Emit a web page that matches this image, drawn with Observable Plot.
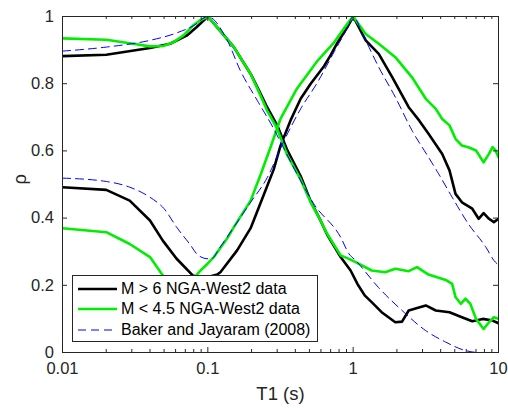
<!DOCTYPE html>
<html><head><meta charset="utf-8">
<script src="https://cdn.jsdelivr.net/npm/d3@7"></script>
<script src="https://cdn.jsdelivr.net/npm/@observablehq/plot@0.6"></script>
<style>
body{margin:0;background:#fff;}
#wrap{position:relative;width:508px;height:409px;font-family:"Liberation Sans",Arial,sans-serif;}
#legend{position:absolute;left:72px;top:275px;width:246px;height:67px;background:#fff;border:1px solid #262626;box-sizing:border-box;}
.row{position:absolute;left:5px;height:20px;display:flex;align-items:center;font-size:16px;color:#000;white-space:nowrap;}
.row svg{margin-right:4px;}
</style>
</head><body>
<div id="wrap"></div>
<script>
// ---- data ----
const seriesNames = ["M > 6 NGA-West2 data", "M < 4.5 NGA-West2 data", "Baker and Jayaram (2008)"];
const xTicks = [0.01, 0.1, 1, 10];
const yTicks = [0, 0.2, 0.4, 0.6, 0.8, 1];
const xMinor = [0.02,0.03,0.04,0.05,0.06,0.07,0.08,0.09,0.2,0.3,0.4,0.5,0.6,0.7,0.8,0.9,2,3,4,5,6,7,8,9];

// Black: M > 6, conditioned on T2 = 0.1 s
const blackA_T   = [0.01,0.02,0.04,0.055,0.0715,0.0835,0.1,0.12,0.151,0.197,0.219,0.256,0.30,0.35,0.435,0.51,0.596,0.66,0.82,0.96,1.07,1.2,1.34,1.57,1.95,2.17,2.41,3.16,3.7,4.6,5.6,6.6,7.8,9.1,10];
const blackA_rho = [0.882,0.886,0.906,0.919,0.943,0.968,1.0,0.96,0.909,0.829,0.790,0.73,0.676,0.605,0.525,0.45,0.393,0.352,0.284,0.244,0.204,0.17,0.15,0.12,0.09,0.092,0.125,0.14,0.125,0.12,0.105,0.093,0.10,0.095,0.087];
// Black: M > 6, conditioned on T2 = 1 s
const blackB_T   = [0.01,0.02,0.029,0.04,0.049,0.061,0.079,0.09,0.1,0.116,0.122,0.159,0.197,0.243,0.284,0.316,0.37,0.435,0.51,0.63,0.70,0.78,0.91,1,1.22,1.5,1.86,2.41,2.85,3.3,4.1,4.6,5.06,5.6,6.6,7.3,7.9,8.6,9.3,10];
const blackB_rho = [0.492,0.484,0.452,0.393,0.333,0.279,0.229,0.222,0.225,0.232,0.239,0.304,0.37,0.47,0.545,0.615,0.69,0.755,0.80,0.852,0.885,0.922,0.968,1.0,0.929,0.889,0.819,0.73,0.69,0.651,0.591,0.542,0.472,0.447,0.428,0.398,0.415,0.398,0.388,0.398];
// Green: M < 4.5, conditioned on T2 = 0.1 s
const greenA_T   = [0.01,0.02,0.0306,0.04,0.0494,0.0577,0.0677,0.079,0.088,0.1,0.12,0.151,0.197,0.219,0.256,0.30,0.35,0.435,0.51,0.596,0.66,0.82,0.92,1.04,1.34,1.66,1.95,2.41,2.75,3.3,4.33,4.8,5.06,5.5,5.93,6.4,7.0,7.9,8.6,9.3,10];
const greenA_rho = [0.935,0.931,0.919,0.911,0.912,0.923,0.943,0.973,0.988,1.0,0.96,0.909,0.829,0.786,0.72,0.666,0.590,0.515,0.447,0.393,0.354,0.289,0.28,0.269,0.244,0.239,0.249,0.242,0.254,0.232,0.216,0.204,0.165,0.145,0.16,0.145,0.10,0.07,0.09,0.105,0.10];
// Green: M < 4.5, conditioned on T2 = 1 s
const greenB_T   = [0.01,0.02,0.029,0.04,0.0496,0.064,0.075,0.082,0.089,0.1,0.11,0.136,0.151,0.197,0.232,0.27,0.316,0.41,0.57,0.74,0.91,1,1.22,1.5,1.95,2.54,3.16,3.7,4.1,4.6,5.06,5.6,6.2,7.0,7.9,8.6,9.1,9.5,10];
const greenB_rho = [0.37,0.358,0.323,0.284,0.226,0.17,0.2,0.226,0.244,0.265,0.284,0.34,0.373,0.452,0.532,0.611,0.695,0.785,0.869,0.923,0.978,1.0,0.948,0.919,0.879,0.819,0.755,0.725,0.695,0.676,0.636,0.616,0.611,0.601,0.566,0.591,0.611,0.603,0.581];
// Blue dashed: Baker and Jayaram (2008), T2 = 0.1 s
const blueA_T   = [0.01,0.02,0.04,0.06,0.08,0.1,0.136,0.167,0.219,0.283,0.33,0.41,0.535,0.82,0.935,1.04,1.49,2.17,3.16,4.33,5.9,7.3,10];
const blueA_rho = [0.897,0.909,0.929,0.95,0.973,1.0,0.929,0.84,0.75,0.667,0.611,0.532,0.443,0.343,0.294,0.274,0.194,0.125,0.065,0.031,0.006,0.0,0.0];
// Blue dashed: Baker and Jayaram (2008), T2 = 1 s
const blueB_T   = [0.01,0.02,0.029,0.04,0.05,0.061,0.075,0.086,0.1,0.107,0.12,0.151,0.197,0.256,0.33,0.435,0.57,0.74,0.91,1,1.16,1.5,1.95,2.54,3.3,3.87,4.8,6.2,8.2,9.3,10];
const blueB_rho = [0.519,0.509,0.492,0.462,0.428,0.373,0.323,0.289,0.279,0.28,0.31,0.373,0.447,0.52,0.625,0.725,0.805,0.895,0.965,1.0,0.948,0.849,0.76,0.661,0.581,0.532,0.462,0.383,0.313,0.274,0.26];

// ---- build tables ----
function toRows(Ts, rhos, id){ return Ts.map((T,i)=>({T, rho: rhos[i], id})); }
const black = toRows(blackA_T, blackA_rho, "a").concat(toRows(blackB_T, blackB_rho, "b"));
const green = toRows(greenA_T, greenA_rho, "a").concat(toRows(greenB_T, greenB_rho, "b"));
const blue  = toRows(blueA_T, blueA_rho, "a").concat(toRows(blueB_T, blueB_rho, "b"));

const W = 508, H = 409, mL = 62, mR = 10, mT = 16, mB = 57;
const pw = W - mL - mR, ph = H - mT - mB;
const axisColor = "#262626";
const font = "'Liberation Sans', Arial, sans-serif";

const chart = Plot.plot({
  width: W, height: H,
  marginLeft: mL, marginRight: mR, marginTop: mT, marginBottom: mB,
  style: {fontFamily: font, fontSize: "16.5px", color: axisColor, background: "#fff"},
  x: {type: "log", domain: [0.01, 10], axis: null},
  y: {domain: [0, 1], axis: null},
  marks: [
    Plot.line(black, {x: "T", y: "rho", z: "id", stroke: "#000", strokeWidth: 2.6, clip: true}),
    Plot.line(green, {x: "T", y: "rho", z: "id", stroke: "#00ee00", strokeWidth: 2.6, clip: true}),
    Plot.line(blue,  {x: "T", y: "rho", z: "id", stroke: "#0000ff", strokeWidth: 1, strokeDasharray: "8,5", curve: "monotone-x", clip: true}),
    // inward ticks (bottom/top)
    Plot.tickX(xMinor, {x: d => d, stroke: axisColor, insetTop: ph - 3}),
    Plot.tickX(xMinor, {x: d => d, stroke: axisColor, insetBottom: ph - 3}),
    Plot.tickX(xTicks, {x: d => d, stroke: axisColor, insetTop: ph - 5}),
    Plot.tickX(xTicks, {x: d => d, stroke: axisColor, insetBottom: ph - 5}),
    // inward ticks (left/right)
    Plot.tickY(yTicks, {y: d => d, stroke: axisColor, insetRight: pw - 5}),
    Plot.tickY(yTicks, {y: d => d, stroke: axisColor, insetLeft: pw - 5}),
    Plot.frame({stroke: axisColor, strokeWidth: 1}),
    Plot.axisX(xTicks, {tickSize: 0, tickPadding: 10, tickFormat: d => String(d), fontSize: 16.5, fill: axisColor, label: null}),
    Plot.axisY(yTicks, {tickSize: 0, tickPadding: 8.5, tickFormat: d => String(d), fontSize: 16.5, fill: axisColor, label: null}),
    Plot.text(["T1 (s)"], {frameAnchor: "bottom", dy: 42, text: d => d, fontSize: 18.5, fill: axisColor, lineAnchor: "middle"}),
    Plot.text(["ρ"], {frameAnchor: "left", dx: -42, text: d => d, fontSize: 18.5, fill: axisColor, rotate: -90, lineAnchor: "middle"})
  ]
});
const wrap = document.getElementById("wrap");
wrap.appendChild(chart);

// legend (inside the axes, lower-left)
const legend = document.createElement("div");
legend.id = "legend";
const styles = [
  {stroke: "#000", w: 2.6, dash: null},
  {stroke: "#00ee00", w: 2.6, dash: null},
  {stroke: "#0000ff", w: 1, dash: "8,5"}
];
const tops = [3, 23, 44];
seriesNames.forEach((name, i) => {
  const row = document.createElement("div");
  row.className = "row";
  row.style.top = tops[i] + "px";
  const s = styles[i];
  row.innerHTML = `<svg width="39" height="6"><line x1="0" x2="39" y1="3" y2="3" stroke="${s.stroke}" stroke-width="${s.w}" ${s.dash ? `stroke-dasharray="${s.dash}"` : ""}/></svg><span>${name.replace(/</g,"&lt;").replace(/>/g,"&gt;")}</span>`;
  legend.appendChild(row);
});
wrap.appendChild(legend);
</script>
</body></html>
